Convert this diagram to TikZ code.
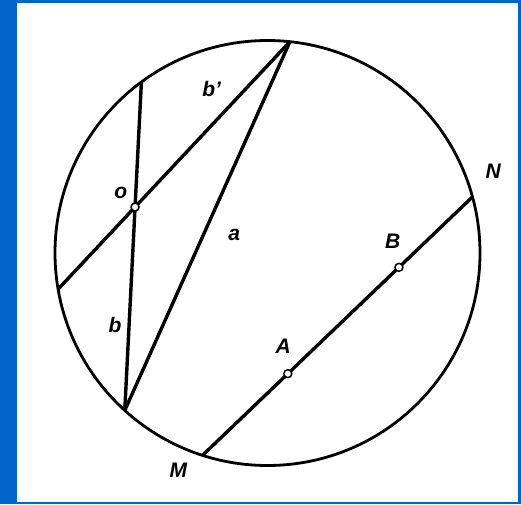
\documentclass[tikz,border=0pt]{standalone}
\usepackage{fontspec}
\setmainfont{Liberation Sans}
\usetikzlibrary{calc}
\definecolor{bgblue}{RGB}{0,102,204}
\begin{document}
\begin{tikzpicture}[x=1pt,y=-1pt,
  rim/.style={line width=2.8pt},
  chord/.style={line width=3.4pt},
  pt/.style={circle,draw,line width=1.5pt,fill=white,inner sep=0pt,minimum size=8pt},
  lbl/.style={inner sep=0pt,font=\fontsize{21}{25}\selectfont\bfseries\itshape}]
\useasboundingbox (0,0) rectangle (521,504);
\fill[bgblue] (0,0) rectangle (521,504);
\fill[white] (17,3) rectangle (518,502);
\coordinate (C) at (267.5,253);
\def\R{212.5}
\coordinate (T) at ($(C)+({\R*cos(83.95)},{-\R*sin(83.95)})$);
\coordinate (V1) at ($(C)+({\R*cos(126.4)},{-\R*sin(126.4)})$);
\coordinate (V2) at ($(C)+({\R*cos(227.8)},{-\R*sin(227.8)})$);
\coordinate (L) at ($(C)+({\R*cos(189.8)},{-\R*sin(189.8)})$);
\coordinate (M) at ($(C)+({\R*cos(252.2)},{-\R*sin(252.2)})$);
\coordinate (N) at ($(C)+({\R*cos(15.3)},{-\R*sin(15.3)})$);
\draw[rim] (C) circle[radius=\R];
\draw[chord] (V1) -- (V2);
\draw[chord] (T) -- (L);
\draw[chord] (T) -- (V2);
\draw[chord] (M) -- (N);
\node[pt] (O) at (intersection of V1--V2 and T--L) {};
\node[pt] (A) at ($(M)!0.316!(N)$) {};
\node[pt] (B) at ($(M)!0.7276!(N)$) {};
\node[lbl] (lbp) at (211.7,89.3) {b'};
\node[lbl] (lo) at (120.7,193.3) {o};
\node[lbl] (la) at (234.3,235) {a};
\node[lbl] (lb) at (115,325) {b};
\node[lbl] (lN) at (493.3,171.7) {N};
\node[lbl] (lB) at (392.7,241.7) {B};
\node[lbl] (lA) at (283.3,346.7) {A};
\node[lbl] (lM) at (178.3,470) {M};
\end{tikzpicture}
\end{document}
